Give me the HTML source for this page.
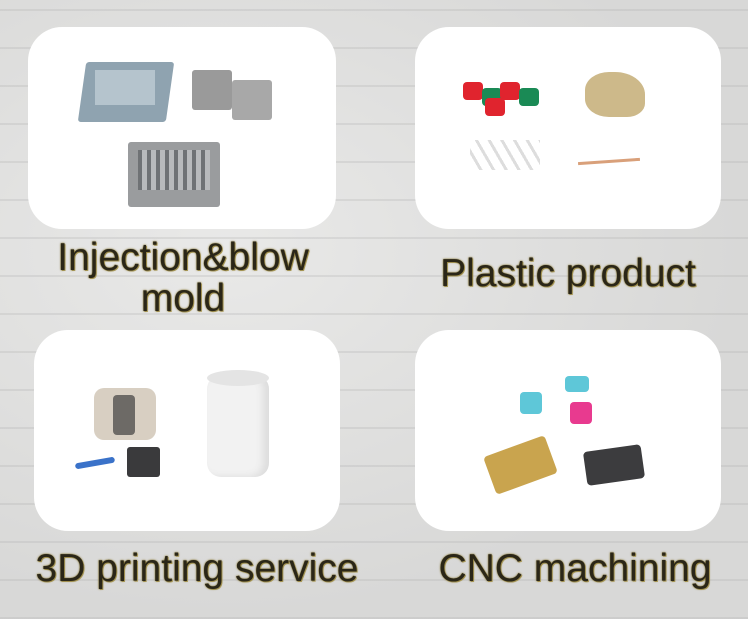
<!DOCTYPE html>
<html><head><style>
html,body{margin:0;padding:0}
body{width:748px;height:619px;position:relative;overflow:hidden;
background-color:#dcdcdb;
background-image:
 repeating-linear-gradient(0deg, rgba(170,170,170,.25) 0 2px, transparent 2px 38px),
 radial-gradient(ellipse at 30% 40%, #e9e9e8 0, #d8d8d7 70%);
font-family:"Liberation Sans",sans-serif}
.card{position:absolute;background:#fff;border-radius:34px}
.t{position:absolute;text-align:center;color:#2a2618;font-size:39px;line-height:41px;
text-shadow:0 0 2px #8a7a3a,0 0 1px #8a7a3a,1px 1px 0 #b0a060}
.s{position:absolute}
</style></head><body>
<div class="card" style="left:28px;top:27px;width:308px;height:202px"></div>
<div class="card" style="left:415px;top:27px;width:306px;height:202px"></div>
<div class="card" style="left:34px;top:330px;width:306px;height:201px"></div>
<div class="card" style="left:415px;top:330px;width:306px;height:201px"></div>

<div class="s" style="left:82px;top:62px;width:88px;height:60px;background:#8fa3b0;border-radius:3px;transform:skewX(-8deg)"></div>
<div class="s" style="left:95px;top:70px;width:60px;height:35px;background:#b5c4cd"></div>
<div class="s" style="left:192px;top:70px;width:40px;height:40px;background:#9a9a9a;border-radius:3px"></div>
<div class="s" style="left:232px;top:80px;width:40px;height:40px;background:#a8a8a8;border-radius:3px"></div>
<div class="s" style="left:128px;top:142px;width:92px;height:65px;background:#9a9c9e;border-radius:3px"></div>
<div class="s" style="left:138px;top:150px;width:72px;height:40px;background:repeating-linear-gradient(90deg,#6f7275 0 4px,#b8babc 4px 9px)"></div>

<div class="s" style="left:463px;top:82px;width:20px;height:18px;background:#e0242e;border-radius:4px"></div>
<div class="s" style="left:482px;top:88px;width:20px;height:18px;background:#1a8a55;border-radius:4px"></div>
<div class="s" style="left:500px;top:82px;width:20px;height:18px;background:#e0242e;border-radius:4px"></div>
<div class="s" style="left:519px;top:88px;width:20px;height:18px;background:#1a8a55;border-radius:4px"></div>
<div class="s" style="left:485px;top:98px;width:20px;height:18px;background:#e0242e;border-radius:4px"></div>
<div class="s" style="left:585px;top:72px;width:60px;height:45px;background:#cdb98a;border-radius:40% 50% 30% 40%"></div>
<div class="s" style="left:470px;top:140px;width:70px;height:30px;background:repeating-linear-gradient(60deg,transparent 0 8px,#ddd 8px 11px)"></div>
<div class="s" style="left:578px;top:160px;width:62px;height:3px;background:#d9a07a;transform:rotate(-4deg)"></div>

<div class="s" style="left:94px;top:388px;width:62px;height:52px;background:#d8cfc2;border-radius:10px"></div>
<div class="s" style="left:113px;top:395px;width:22px;height:40px;background:#6d6a66;border-radius:4px"></div>
<div class="s" style="left:207px;top:375px;width:62px;height:102px;background:#f2f2f2;border-radius:14px;box-shadow:inset -6px 0 8px #ddd"></div>
<div class="s" style="left:207px;top:370px;width:62px;height:16px;background:#e4e4e4;border-radius:50%"></div>
<div class="s" style="left:127px;top:447px;width:33px;height:30px;background:#3a3a3c;border-radius:3px"></div>
<div class="s" style="left:75px;top:460px;width:40px;height:6px;background:#3a72c9;border-radius:3px;transform:rotate(-10deg)"></div>

<div class="s" style="left:520px;top:392px;width:22px;height:22px;background:#5ec7d8;border-radius:4px"></div>
<div class="s" style="left:565px;top:376px;width:24px;height:16px;background:#5ec7d8;border-radius:4px"></div>
<div class="s" style="left:570px;top:402px;width:22px;height:22px;background:#e83a8f;border-radius:4px"></div>
<div class="s" style="left:488px;top:445px;width:65px;height:40px;background:#c9a44e;border-radius:4px;transform:rotate(-20deg)"></div>
<div class="s" style="left:585px;top:448px;width:58px;height:34px;background:#3c3c3e;border-radius:4px;transform:rotate(-8deg)"></div>

<div class="t" style="left:20px;top:237px;width:326px">Injection&amp;blow<br>mold</div>
<div class="t" style="left:405px;top:253px;width:326px">Plastic product</div>
<div class="t" style="left:10px;top:548px;width:374px">3D printing service</div>
<div class="t" style="left:400px;top:548px;width:350px">CNC machining</div>
</body></html>
